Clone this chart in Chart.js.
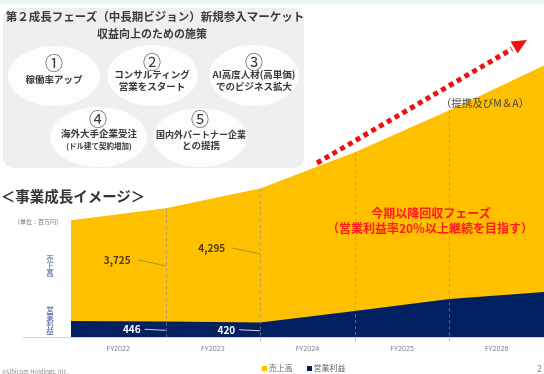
<!DOCTYPE html>
<html>
<head>
<meta charset="utf-8">
<script src="https://cdn.jsdelivr.net/npm/chart.js@4"></script>
<style>
  body { margin: 0; background: #fff; font-family: "Noto Sans CJK JP", "Noto Sans", sans-serif; }
  #wrap { position: relative; width: 544px; height: 374px; overflow: hidden; }
  #c { position: absolute; left: 0; top: 0; }
  .t { position: absolute; transform: translate(-50%, -50%); white-space: nowrap; line-height: 1; }
  .panel { position: absolute; left: 3px; top: 8px; width: 301px; height: 160px; background: #efefef; border-radius: 10px; }
  .ell { position: absolute; background: #fdfdfd; border-radius: 50%; }
  .num { font-size: 18px; color: #3a3a3a; }
  .lab { font-size: 9.5px; font-weight: bold; color: #3a3a3a; }
  .vch { position: absolute; transform: translate(-50%, -50%); font-size: 7.5px; color: #3d5a99; line-height: 1; }
</style>
</head>
<body>
<div id="wrap">
  <canvas id="c" width="544" height="374"></canvas>

  <div style="position:absolute;left:0;top:0;width:544px;height:4px;background:#e9f6f9"></div>
  <div class="panel"></div>
  <div class="t" style="left:155px;top:17px;font-size:11.5px;font-weight:bold;color:#3c3c3c">第２成長フェーズ（中長期ビジョン）新規参入マーケット</div>
  <div class="t" style="left:152px;top:33px;font-size:11px;font-weight:bold;color:#3c3c3c">収益向上のための施策</div>

  <div class="ell" style="left:8px;top:46px;width:92px;height:60px"></div>
  <div class="ell" style="left:107px;top:45px;width:91px;height:61px"></div>
  <div class="ell" style="left:209px;top:45px;width:90px;height:61px"></div>
  <div class="ell" style="left:50px;top:107px;width:97px;height:60px"></div>
  <div class="ell" style="left:153px;top:108px;width:94px;height:59px"></div>

  <div class="t num" style="left:54px;top:62px">①</div>
  <div class="t lab" style="left:54px;top:80px">稼働率アップ</div>
  <div class="t num" style="left:152px;top:61px">②</div>
  <div class="t lab" style="left:152px;top:75px">コンサルティング</div>
  <div class="t lab" style="left:152px;top:87px">営業をスタート</div>
  <div class="t num" style="left:254px;top:61px">③</div>
  <div class="t lab" style="left:254px;top:75px">AI高度人材(高単価)</div>
  <div class="t lab" style="left:254px;top:87px">でのビジネス拡大</div>
  <div class="t num" style="left:98px;top:118px">④</div>
  <div class="t lab" style="left:99px;top:134px">海外大手企業受注</div>
  <div class="t lab" style="left:99px;top:146px;font-size:7.5px">(ドル建て契約増加)</div>
  <div class="t num" style="left:200px;top:118px">⑤</div>
  <div class="t lab" style="left:201px;top:134px;font-size:9px">国内外パートナー企業</div>
  <div class="t lab" style="left:201px;top:146px">との提携</div>

  <div class="t" style="left:73px;top:196px;font-size:14.5px;font-weight:bold;color:#333">＜事業成長イメージ＞</div>
  <div class="t" style="left:38px;top:222px;font-size:6px;color:#777">（単位：百万円）</div>
  <div class="vch" style="left:50px;top:259px">売</div>
  <div class="vch" style="left:50px;top:266px">上</div>
  <div class="vch" style="left:50px;top:273px">高</div>
  <div class="vch" style="left:50px;top:310px">営</div>
  <div class="vch" style="left:50px;top:317px">業</div>
  <div class="vch" style="left:50px;top:324px">利</div>
  <div class="vch" style="left:50px;top:331px">益</div>

  <div class="t" style="left:485px;top:103px;font-size:10.5px;color:#444">（提携及びM＆A）</div>
  <div class="t" style="left:431px;top:213px;font-size:12px;font-weight:bold;color:#ff1a1a">今期以降回収フェーズ</div>
  <div class="t" style="left:430px;top:228px;font-size:12px;font-weight:bold;color:#ff1a1a">（営業利益率20％以上継続を目指す）</div>

  <svg style="position:absolute;left:0;top:0" width="544" height="374">
    <line x1="317" y1="163" x2="512" y2="49" stroke="#ee1111" stroke-width="5" stroke-dasharray="5 4"/>
    <polygon points="527,40 510.6,41.6 517.6,53.6" fill="#ee1111"/>
  </svg>

  <div style="position:absolute;left:262px;top:364px;font-size:8px;color:#666;line-height:1;white-space:nowrap">
    <span style="display:inline-block;width:5px;height:5px;background:#ffc000"></span> 売上高
    <span style="display:inline-block;width:5px;height:5px;background:#002060;margin-left:12px"></span> 営業利益
  </div>
  <div style="position:absolute;left:2px;top:369px;font-size:6px;color:#888;line-height:1">©Ubicom Holdings, Inc.</div>
  <div style="position:absolute;left:537px;top:364px;font-size:9px;color:#888;line-height:1">2</div>
</div>

<script>
// period boundaries 0..5, fiscal years sit between them
const years = ["FY2022", "FY2023", "FY2024", "FY2025", "FY2026"];
const yearPos = [0.5, 1.5, 2.5, 3.5, 4.5];
const revenue = [3380, 3725, 4295, 5350, 6560, 7860];
const profit = [460, 446, 420, 750, 1100, 1300];
const labeled = [1, 2];

const toPts = arr => arr.map((v, i) => ({ x: i, y: v }));

const decor = {
  id: "decor",
  afterDatasetsDraw(chart) {
    const { ctx, chartArea, scales: { x, y } } = chart;
    ctx.save();
    // baseline
    ctx.strokeStyle = "#d4d4d4";
    ctx.lineWidth = 1;
    ctx.beginPath();
    ctx.moveTo(23, chartArea.bottom + 0.5);
    ctx.lineTo(chartArea.right, chartArea.bottom + 0.5);
    ctx.stroke();

    // dashed period dividers
    ctx.setLineDash([3, 3]);
    ctx.strokeStyle = "rgba(140,140,160,0.65)";
    for (let i = 1; i < revenue.length - 1; i++) {
      const px = Math.round(x.getPixelForValue(i)) + 0.5;
      ctx.beginPath();
      ctx.moveTo(px, y.getPixelForValue(revenue[i]));
      ctx.lineTo(px, chartArea.bottom + 4);
      ctx.stroke();
    }
    ctx.setLineDash([]);

    // value labels with leader lines
    ctx.font = "bold 10px 'Noto Sans CJK JP', sans-serif";
    ctx.textAlign = "right";
    ctx.textBaseline = "middle";
    labeled.forEach(i => {
      const xb = x.getPixelForValue(i);
      const ry = y.getPixelForValue(revenue[i] * 0.6);
      ctx.fillStyle = "#4d3b0a";
      ctx.fillText(revenue[i].toLocaleString("en-US"), xb - 35, ry);
      ctx.strokeStyle = "rgba(120,110,90,0.6)";
      ctx.beginPath();
      ctx.moveTo(xb - 28, ry);
      ctx.lineTo(xb, ry + 6);
      ctx.stroke();

      const py = y.getPixelForValue(profit[i] / 2);
      ctx.fillStyle = "#ffffff";
      ctx.fillText(profit[i].toLocaleString("en-US"), xb - 25, py);
      ctx.strokeStyle = "rgba(255,255,255,0.8)";
      ctx.beginPath();
      ctx.moveTo(xb - 21, py);
      ctx.lineTo(xb, py + 1);
      ctx.stroke();
    });
    ctx.restore();
  }
};

new Chart(document.getElementById("c"), {
  type: "line",
  data: {
    datasets: [
      { label: "営業利益", data: toPts(profit), backgroundColor: "#002060", borderWidth: 0, fill: "origin", pointRadius: 0, tension: 0 },
      { label: "売上高", data: toPts(revenue), backgroundColor: "#ffc000", borderWidth: 0, fill: "origin", pointRadius: 0, tension: 0 }
    ]
  },
  options: {
    responsive: false,
    animation: false,
    layout: { padding: { left: 71, right: 0, top: 26, bottom: 0 } },
    scales: {
      x: {
        type: "linear",
        min: 0,
        max: 5,
        afterBuildTicks: s => { s.ticks = yearPos.map(v => ({ value: v })); },
        afterFit: s => { s.height = 37; },
        ticks: {
          callback: (v, idx) => years[idx],
          color: "#7f7f7f",
          font: { size: 7, family: "'Noto Sans', sans-serif" },
          padding: 8,
          maxRotation: 0
        },
        grid: { display: false, drawTicks: false },
        border: { display: false }
      },
      y: { display: false, min: 0, max: 9000 }
    },
    plugins: { legend: { display: false }, tooltip: { enabled: false } }
  },
  plugins: [decor]
});
</script>
</body>
</html>
